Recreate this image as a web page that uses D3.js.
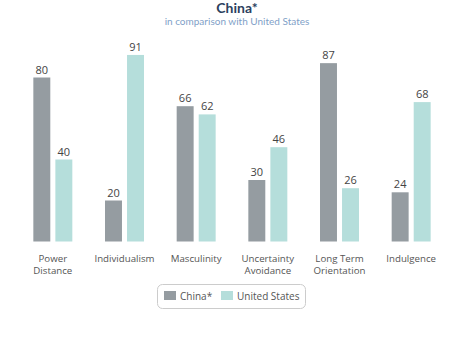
<!DOCTYPE html>
<html><head><meta charset="utf-8">
<script src="https://cdn.jsdelivr.net/npm/d3@7"></script>
<style>body{margin:0;background:#fff;} svg{display:block;font-family:"Open Sans",sans-serif;}</style>
</head><body>
<svg id="c" width="474" height="337"></svg>
<script>
const categories = [["Power","Distance"],["Individualism"],["Masculinity"],["Uncertainty","Avoidance"],["Long Term","Orientation"],["Indulgence"]];
const seriesNames = ["China*","United States"];
const china = [80,20,66,30,87,24];
const us = [40,91,62,46,26,68];
const colors = ["#959ca1","#b5dedb"];

const svg = d3.select("#c");
const W=474,H=337;
const x = d3.scaleBand().domain(d3.range(categories.length)).range([17,447]).paddingInner(0.456).paddingOuter(0.228);
const inner = d3.scaleBand().domain([0,1]).range([0,x.bandwidth()]).paddingInner(0.23);
const y = d3.scaleLinear().domain([0,100]).range([241.5,36.5]);

svg.append("text").attr("x",W/2).attr("y",13.3).attr("text-anchor","middle").attr("font-family","Lato, sans-serif")
  .attr("font-size",14).attr("font-weight",700).attr("fill","#2c3f5e").text("China*");
svg.append("text").attr("x",W/2).attr("y",25.3).attr("text-anchor","middle").attr("font-family","Lato, sans-serif")
  .attr("font-size",10).attr("fill","#7f9fc8").text("in comparison with United States");

const data = [china, us];
const g = svg.append("g");
data.forEach((vals,si)=>{
  const gg = g.append("g");
  gg.selectAll("rect").data(vals).join("rect")
    .attr("x",(d,i)=>x(i)+inner(si)).attr("width",inner.bandwidth())
    .attr("y",d=>y(d)).attr("height",d=>y(0)-y(d)).attr("fill",colors[si]);
  gg.selectAll("text").data(vals).join("text")
    .attr("x",(d,i)=>x(i)+inner(si)+inner.bandwidth()/2).attr("y",d=>y(d)-4)
    .attr("text-anchor","middle").attr("font-size",11).attr("fill","#444").text(d=>d);
});

const lab = svg.append("g");
categories.forEach((lines,i)=>{
  lines.forEach((l,j)=>lab.append("text").attr("x",x(i)+x.bandwidth()/2).attr("y",261.5+j*12)
    .attr("text-anchor","middle").attr("font-size",9.7).attr("fill","#555").text(l));
});

const leg = svg.append("g");
leg.append("rect").attr("x",157.5).attr("y",284.5).attr("width",148).attr("height",24).attr("rx",5)
  .attr("fill","#fff").attr("stroke","#ccc");
const legX=[164,221];
seriesNames.forEach((n,i)=>{
  leg.append("rect").attr("x",legX[i]).attr("y",291).attr("width",12).attr("height",9).attr("fill",colors[i]);
  leg.append("text").attr("x",legX[i]+16).attr("y",299.5).attr("font-size",10).attr("fill","#555").text(n);
});
</script>
</body></html>
